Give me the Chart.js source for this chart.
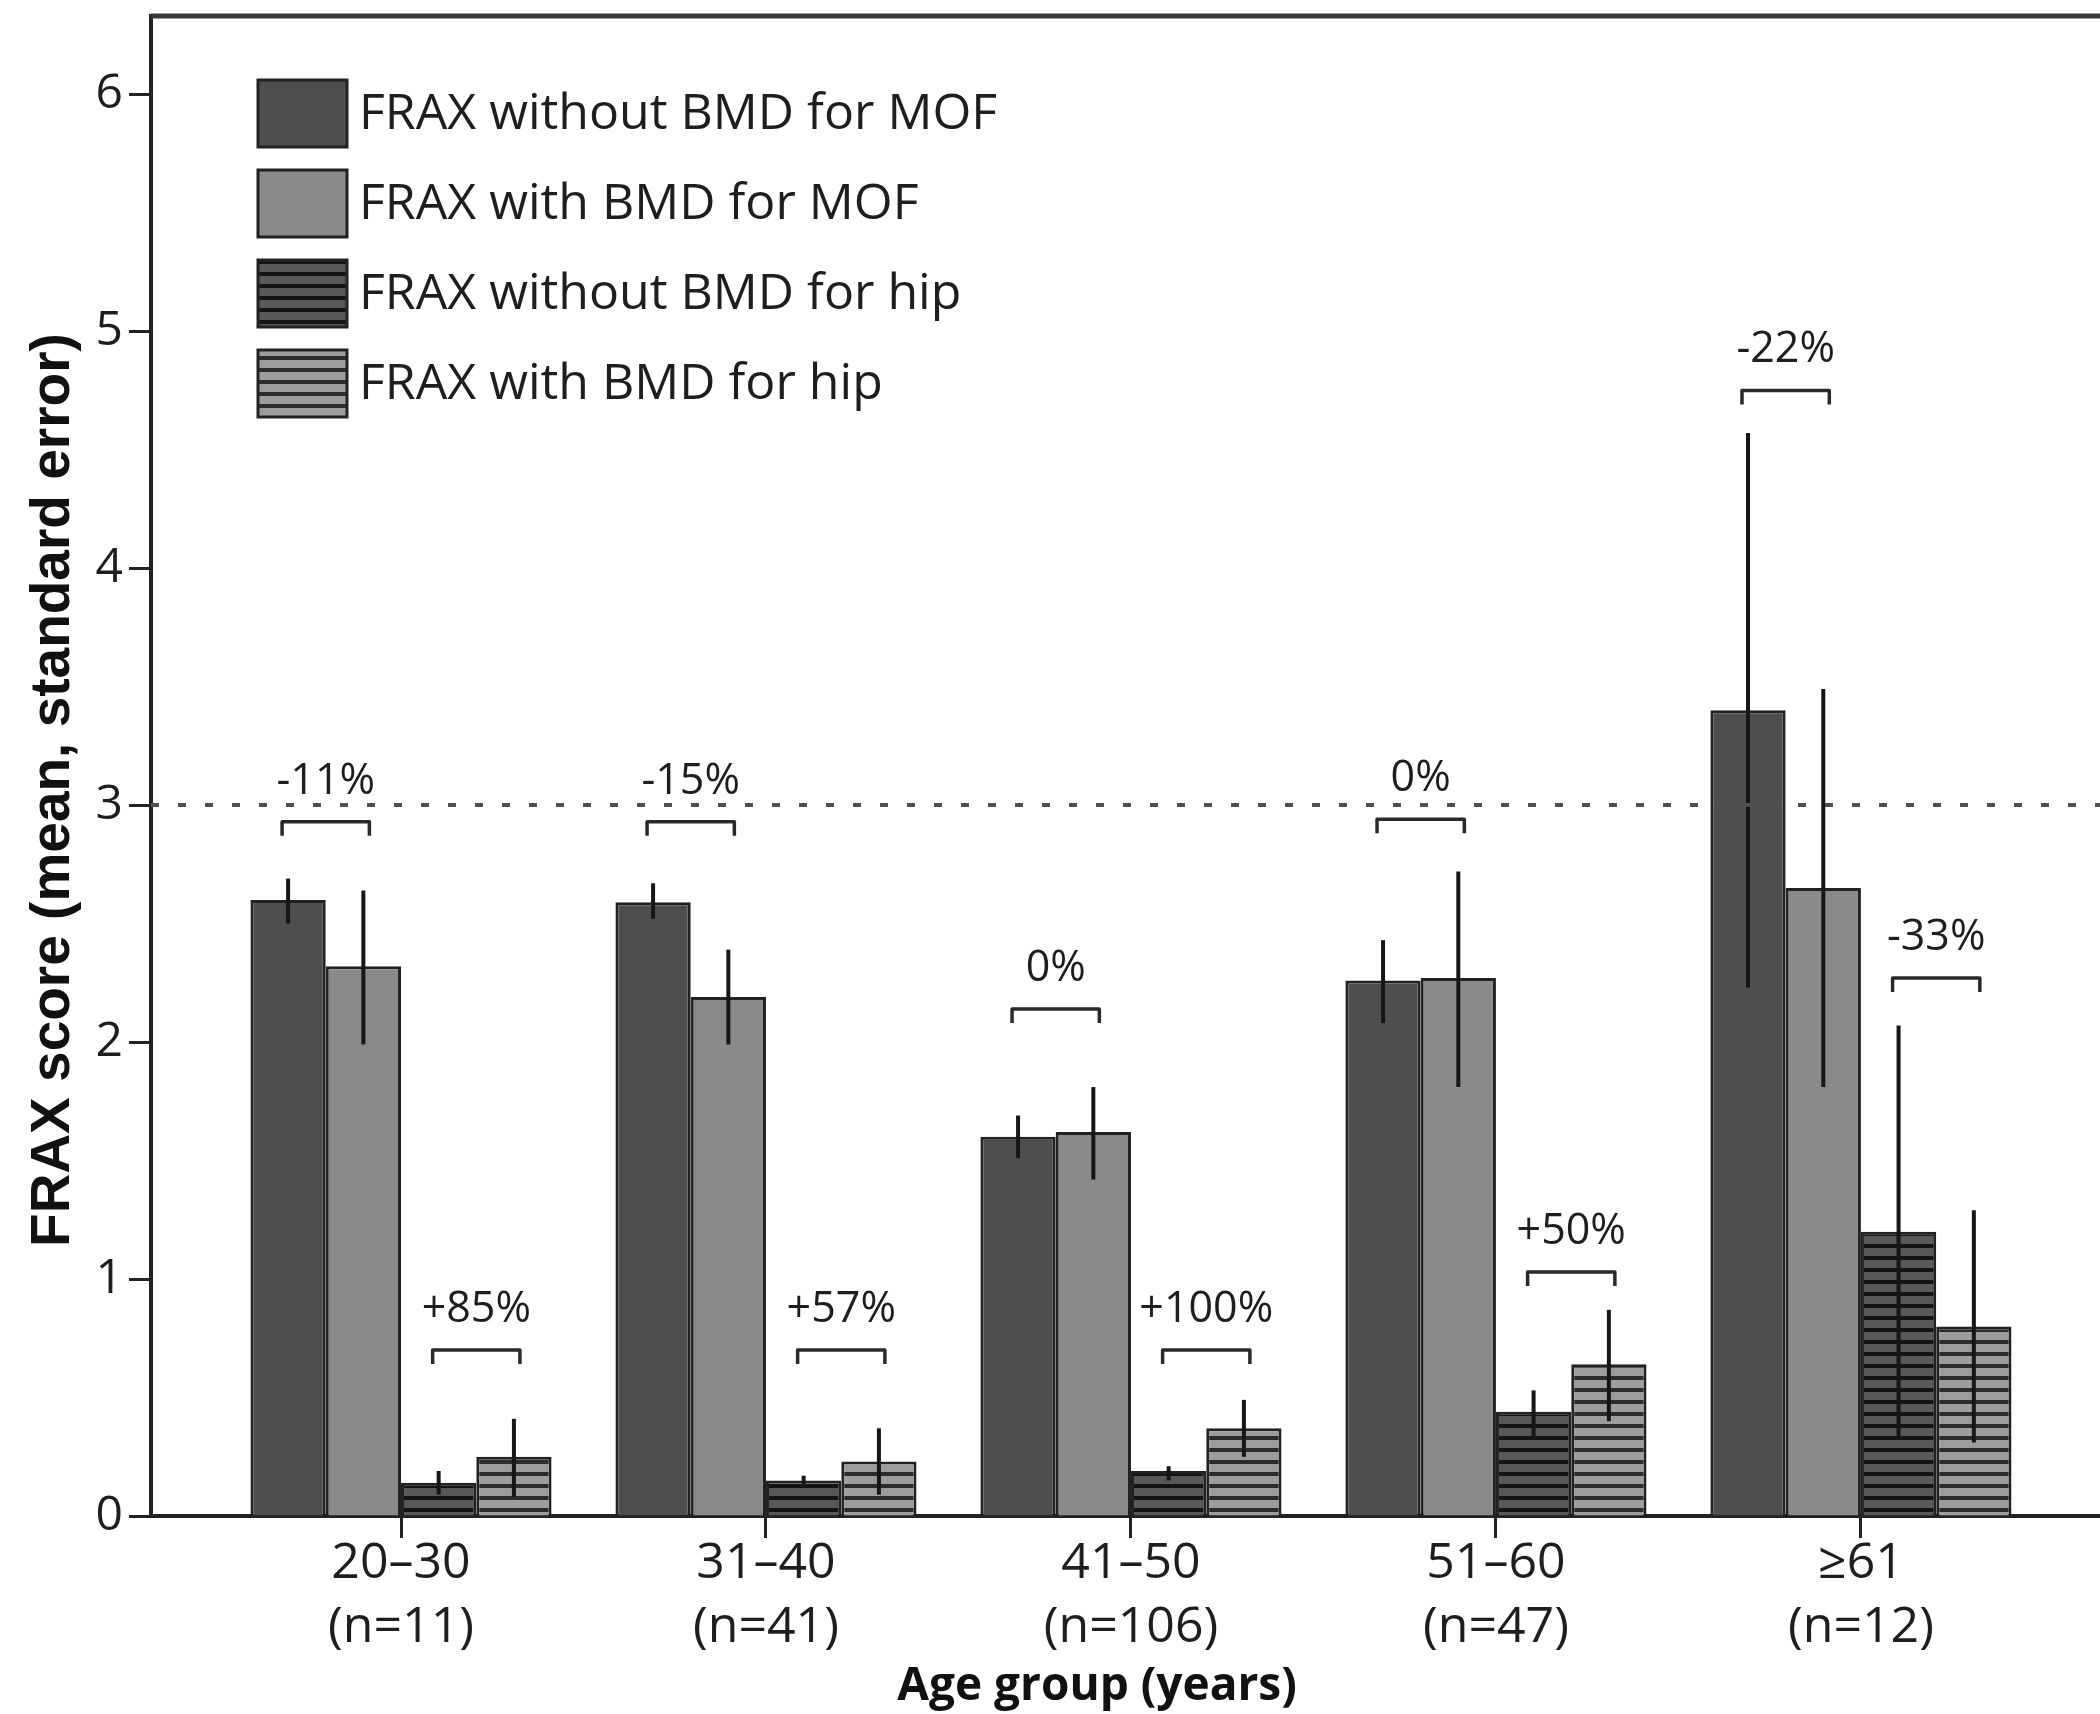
<!DOCTYPE html>
<html>
<head>
<meta charset="utf-8">
<script src="https://cdn.jsdelivr.net/npm/chart.js@4.4.1/dist/chart.umd.min.js"></script>
<style>
  html, body { margin: 0; padding: 0; background: #fff; overflow: hidden; }
  #wrap { width: 2100px; height: 1714px; position: relative; }
</style>
</head>
<body>
<div id="wrap"><canvas id="fraxChart"></canvas></div>
<script>
// age groups and sample sizes
const groups = ['20–30', '31–40', '41–50', '51–60', '≥61'];
const groupN = ['(n=11)', '(n=41)', '(n=106)', '(n=47)', '(n=12)'];

const seriesNames = [
  'FRAX without BMD for MOF',
  'FRAX with BMD for MOF',
  'FRAX without BMD for hip',
  'FRAX with BMD for hip'
];

// means
const mofNoBmd = [2.60, 2.59, 1.60, 2.26, 3.40];
const mofBmd   = [2.32, 2.19, 1.62, 2.27, 2.65];
const hipNoBmd = [0.14, 0.15, 0.19, 0.44, 1.20];
const hipBmd   = [0.25, 0.23, 0.37, 0.64, 0.80];

// error bar ends [low, high]
const mofNoBmdErr = [[2.50, 2.69], [2.52, 2.67], [1.51, 1.69], [2.08, 2.43], [2.23, 4.57]];
const mofBmdErr   = [[1.99, 2.64], [1.99, 2.39], [1.42, 1.81], [1.81, 2.72], [1.81, 3.49]];
const hipNoBmdErr = [[0.09, 0.19], [0.12, 0.17], [0.15, 0.21], [0.33, 0.53], [0.33, 2.07]];
const hipBmdErr   = [[0.08, 0.41], [0.09, 0.37], [0.25, 0.49], [0.40, 0.87], [0.31, 1.29]];

// change labels and the height of their brackets
const mofChange   = ['-11%', '-15%', '0%', '0%', '-22%'];
const mofBracketY = [2.93, 2.93, 2.14, 2.94, 4.75];
const hipChange   = ['+85%', '+57%', '+100%', '+50%', '-33%'];
const hipBracketY = [0.70, 0.70, 0.70, 1.03, 2.27];

const threshold = 3;

const series = [mofNoBmd, mofBmd, hipNoBmd, hipBmd];
const errors = [mofNoBmdErr, mofBmdErr, hipNoBmdErr, hipBmdErr];

function stripes(base, line) {
  const c = document.createElement('canvas');
  c.width = 8; c.height = 12;
  const g = c.getContext('2d');
  g.fillStyle = base; g.fillRect(0, 0, 8, 12);
  g.fillStyle = line; g.fillRect(0, 8, 8, 4);
  return g.createPattern(c, 'repeat');
}

const fills = ['#4e4e4e', '#8a8a8a', stripes('#585858', '#141414'), stripes('#9c9c9c', '#2c2c2c')];
const ink = '#1e1e1e';
const sans = "'Open Sans', sans-serif";

function bracket(ctx, x0, x1, yp, label) {
  ctx.beginPath();
  ctx.moveTo(x0, yp + 14);
  ctx.lineTo(x0, yp);
  ctx.lineTo(x1, yp);
  ctx.lineTo(x1, yp + 14);
  ctx.stroke();
  ctx.fillText(label, (x0 + x1) / 2, yp - 28);
}

const overlay = {
  id: 'overlay',
  afterDatasetsDraw(chart) {
    const { ctx, chartArea: a, scales: { y } } = chart;
    ctx.save();

    // error bars
    ctx.strokeStyle = '#161616';
    ctx.lineWidth = 4;
    errors.forEach((set, k) => {
      const meta = chart.getDatasetMeta(k);
      set.forEach(([lo, hi], i) => {
        const bx = meta.data[i].x;
        ctx.beginPath();
        ctx.moveTo(bx, y.getPixelForValue(lo));
        ctx.lineTo(bx, y.getPixelForValue(hi));
        ctx.stroke();
      });
    });

    // reference line
    const ty = y.getPixelForValue(threshold);
    ctx.setLineDash([8, 19]);
    ctx.strokeStyle = '#505050';
    ctx.lineWidth = 4;
    ctx.beginPath();
    ctx.moveTo(a.left, ty);
    ctx.lineTo(a.right, ty);
    ctx.stroke();
    ctx.setLineDash([]);

    // brackets
    ctx.strokeStyle = '#2a2a2a';
    ctx.lineWidth = 3.5;
    ctx.lineJoin = 'round';
    ctx.fillStyle = ink;
    ctx.font = '43px ' + sans;
    ctx.textAlign = 'center';
    ctx.textBaseline = 'alphabetic';
    const m = [0, 1, 2, 3].map(k => chart.getDatasetMeta(k).data);
    groups.forEach((g, i) => {
      bracket(ctx, m[0][i].x - 6, m[1][i].x + 6, y.getPixelForValue(mofBracketY[i]), mofChange[i]);
      bracket(ctx, m[2][i].x - 6, m[3][i].x + 6, y.getPixelForValue(hipBracketY[i]), hipChange[i]);
    });
    ctx.restore();
  },
  afterDraw(chart) {
    const { ctx, chartArea: a } = chart;
    ctx.save();

    // frame line on top
    ctx.strokeStyle = '#3a3a3a';
    ctx.lineWidth = 5;
    ctx.beginPath();
    ctx.moveTo(a.left, a.top);
    ctx.lineTo(a.right, a.top);
    ctx.stroke();

    // legend
    ctx.font = '50px ' + sans;
    ctx.textAlign = 'left';
    ctx.textBaseline = 'middle';
    seriesNames.forEach((name, k) => {
      const top = 80 + k * 90;
      ctx.fillStyle = fills[k];
      ctx.fillRect(258, top, 89, 67);
      ctx.strokeStyle = '#222';
      ctx.lineWidth = 3;
      ctx.strokeRect(258, top, 89, 67);
      ctx.fillStyle = ink;
      ctx.fillText(name, 359, top + 35);
    });

    // axis titles
    ctx.fillStyle = '#111';
    ctx.textAlign = 'center';
    ctx.font = "bold 46px 'Open Sans', sans-serif";
    ctx.fillText('Age group (years)', 1097, 1687);

    ctx.translate(54, 790);
    ctx.rotate(-Math.PI / 2);
    ctx.font = "bold 55px 'Liberation Sans', Arial, sans-serif";
    ctx.fillText('FRAX score (mean, standard error)', 0, 0);
    ctx.restore();
  }
};

new Chart(document.getElementById('fraxChart'), {
  type: 'bar',
  data: {
    datasets: series.map((vals, k) => ({
      label: seriesNames[k],
      data: vals.map((v, i) => ({ x: i, y: v })),
      backgroundColor: fills[k],
      borderColor: '#222',
      borderWidth: 3,
      borderSkipped: 'bottom'
    }))
  },
  options: {
    responsive: true,
    maintainAspectRatio: false,
    animation: false,
    layout: { padding: { top: 16, right: 0, left: 0, bottom: 0 } },
    datasets: { bar: { categoryPercentage: 0.825, barPercentage: 1 } },
    plugins: { legend: { display: false }, tooltip: { enabled: false } },
    scales: {
      x: {
        type: 'linear',
        min: -0.685,
        max: 4.655,
        offset: false,
        afterBuildTicks: s => { s.ticks = groups.map((g, i) => ({ value: i })); },
        afterFit: s => { s.height = 198; s.paddingLeft = 0; s.paddingRight = 0; },
        ticks: {
          callback: v => [groups[v], groupN[v]],
          font: { family: 'Open Sans', size: 50, lineHeight: 1.28 },
          color: ink,
          padding: -6,
          maxRotation: 0,
          autoSkip: false
        },
        grid: { offset: false, drawOnChartArea: false, drawTicks: true, tickLength: 22, tickWidth: 3, tickColor: '#222' },
        border: { color: '#222', width: 4 }
      },
      y: {
        min: 0,
        max: 6.33,
        afterFit: s => { s.width = 151; s.paddingTop = 0; s.paddingBottom = 0; },
        ticks: {
          stepSize: 1,
          includeBounds: false,
          font: { family: 'Open Sans', size: 48 },
          color: ink,
          padding: 6
        },
        grid: { drawOnChartArea: false, tickLength: 22, tickWidth: 3, tickColor: '#222' },
        border: { color: '#222', width: 4 }
      }
    }
  },
  plugins: [overlay]
});
</script>
</body>
</html>
